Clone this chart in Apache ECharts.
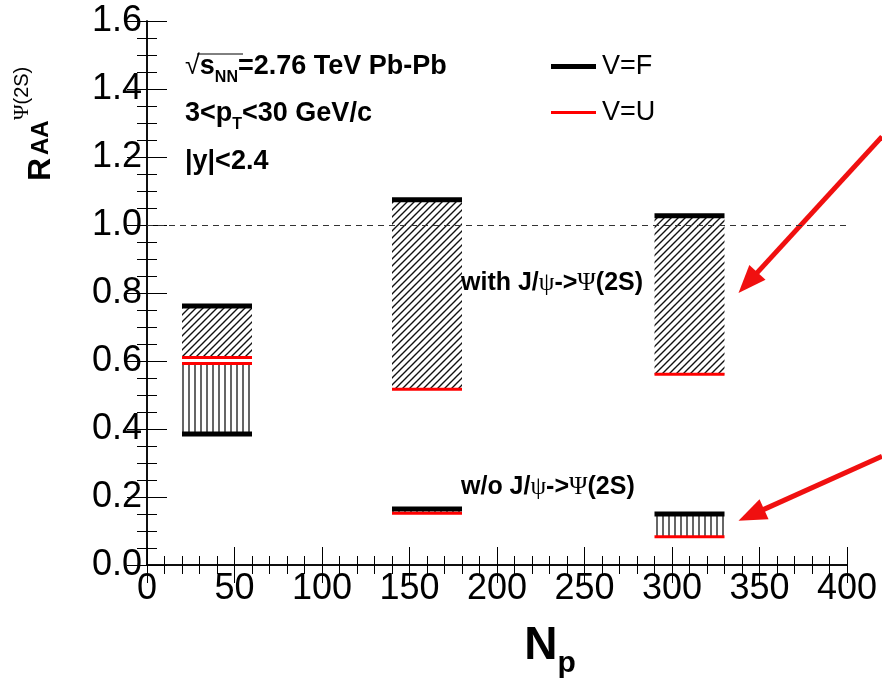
<!DOCTYPE html>
<html>
<head>
<meta charset="utf-8">
<script src="https://cdn.jsdelivr.net/npm/echarts@6/dist/echarts.min.js"></script>
<style>
  html, body { margin: 0; padding: 0; background: #fff; }
  #chart { width: 882px; height: 680px; }
</style>
</head>
<body>
<div id="chart"></div>
<script>
// Np ranges of the three centrality boxes
const npLow = [20, 140, 290]
const npHigh = [60, 180, 330]
// R_AA with J/psi -> psi(2S) feed
const withF = [0.762, 1.074, 1.027]
const withU = [0.610, 0.517, 0.561]
// R_AA without J/psi -> psi(2S) feed
const woF = [0.385, 0.165, 0.150]
const woU = [0.593, 0.152, 0.083]
// annotation arrows (from, to) in data units
const arrowFrom = [[420, 1.26], [420, 0.32]]
const arrowTo = [[338, 0.80], [338, 0.13]]
const xTicks = [0, 50, 100, 150, 200, 250, 300, 350, 400]
const yTicks = [0.0, 0.2, 0.4, 0.6, 0.8, 1.0, 1.2, 1.4, 1.6]

const FONT = "Liberation Sans, Arial, Helvetica, sans-serif"
const SERIF = "Liberation Serif, DejaVu Serif, serif"

function makeHatch(kind) {
  const c = document.createElement("canvas")
  const ctx = c.getContext("2d")
  if (kind === "diag") {
    const s = 7
    c.width = s; c.height = s
    ctx.strokeStyle = "#111"
    ctx.lineWidth = 1.4
    ctx.beginPath()
    ctx.moveTo(-1, s + 1); ctx.lineTo(s + 1, -1)
    ctx.moveTo(-2, 2); ctx.lineTo(2, -2)
    ctx.moveTo(s - 2, s + 2); ctx.lineTo(s + 2, s - 2)
    ctx.stroke()
  } else {
    c.width = 6; c.height = 6
    ctx.strokeStyle = "#333"
    ctx.lineWidth = 1.5
    ctx.beginPath()
    ctx.moveTo(3, 0); ctx.lineTo(3, 6)
    ctx.stroke()
  }
  return { image: c, repeat: "repeat" }
}

const diagFill = makeHatch("diag")
const vertFill = makeHatch("vert")

function bandData(lo, hi) {
  return npLow.map((x0, i) => [x0, npHigh[i], lo[i], hi[i]])
}
function lineData(a, b) {
  const out = []
  npLow.forEach((x0, i) => { out.push([x0, npHigh[i], a[i]]) })
  npLow.forEach((x0, i) => { out.push([x0, npHigh[i], b[i]]) })
  return out
}

function renderBand(fill) {
  return function (params, api) {
    const p0 = api.coord([api.value(0), Math.max(api.value(2), api.value(3))])
    const p1 = api.coord([api.value(1), Math.min(api.value(2), api.value(3))])
    return {
      type: "rect",
      shape: { x: p0[0], y: p0[1], width: p1[0] - p0[0], height: p1[1] - p0[1] },
      style: { fill: fill, stroke: null },
    }
  }
}

function renderLevel(color, width) {
  return function (params, api) {
    const p0 = api.coord([api.value(0), api.value(2)])
    const p1 = api.coord([api.value(1), api.value(2)])
    return {
      type: "line",
      shape: { x1: p0[0], y1: p0[1], x2: p1[0], y2: p1[1] },
      style: { stroke: color, lineWidth: width },
    }
  }
}

// red arrow: shaft plus filled head, both placed through the axes
function renderArrow(params, api) {
  const a = api.coord([api.value(0), api.value(1)])
  const b = api.coord([api.value(2), api.value(3)])
  const dx = b[0] - a[0], dy = b[1] - a[1]
  const len = Math.sqrt(dx * dx + dy * dy)
  const ux = dx / len, uy = dy / len
  const headLen = 28, headHalf = 11
  const bx = b[0] - ux * headLen, by = b[1] - uy * headLen
  return {
    type: "group",
    children: [
      { type: "line", shape: { x1: a[0], y1: a[1], x2: bx + ux * 2, y2: by + uy * 2 },
        style: { stroke: "#f01010", lineWidth: 5 } },
      { type: "polygon",
        shape: { points: [b, [bx - uy * headHalf, by + ux * headHalf], [bx + uy * headHalf, by - ux * headHalf]] },
        style: { fill: "#f01010" } },
    ],
  }
}

const chart = echarts.init(document.getElementById("chart"), null, { renderer: "canvas" })

const axisCommon = {
  axisLine: { lineStyle: { color: "#000", width: 1.5 } },
  axisTick: { inside: true, length: 18, lineStyle: { color: "#000", width: 1 } },
  minorTick: { show: true, length: 9, lineStyle: { color: "#000", width: 1 } },
  splitLine: { show: false },
}

const legendText = { fontFamily: FONT, fontSize: 27, color: "#000", padding: [0, 0, 0, 1] }

const annoRich = {
  b: { fontFamily: FONT, fontWeight: "bold", fontSize: 25, fill: "#000" },
  g: { fontFamily: SERIF, fontSize: 25, fill: "#000" },
}

const option = {
  backgroundColor: "#fff",
  animation: false,
  grid: { left: 147, right: 35, top: 21, bottom: 115, outerBoundsMode: "none" },
  legend: [
    {
      data: [{ name: "V=F", icon: "rect" }],
      left: 546, top: 48,
      itemWidth: 45, itemHeight: 5,
      textStyle: legendText,
      selectedMode: false,
    },
    {
      data: [{ name: "V=U", icon: "rect" }],
      left: 546, top: 94,
      itemWidth: 45, itemHeight: 3,
      textStyle: legendText,
      selectedMode: false,
    },
  ],
  xAxis: [
    {
      ...axisCommon,
      type: "value", min: xTicks[0], max: xTicks[xTicks.length - 1], interval: 50,
      minorTick: { ...axisCommon.minorTick, splitNumber: 5 },
      axisLabel: { fontFamily: FONT, fontSize: 36, color: "#000", margin: 6 },
      name: "{n|N}{s|p}",
      nameLocation: "middle",
      nameGap: 58,
      nameTextStyle: {
        padding: [0, 0, 0, 106],
        rich: {
          n: { fontFamily: FONT, fontWeight: "bold", fontSize: 46, color: "#000", verticalAlign: "bottom" },
          s: { fontFamily: FONT, fontWeight: "bold", fontSize: 30, color: "#000", verticalAlign: "bottom", padding: [0, 0, -10, 0] },
        },
      },
    },
    {
      ...axisCommon,
      type: "value", position: "top", min: xTicks[0], max: xTicks[xTicks.length - 1], interval: 50,
      minorTick: { ...axisCommon.minorTick, splitNumber: 5 },
      axisLabel: { show: false },
    },
  ],
  yAxis: [
    {
      ...axisCommon,
      type: "value", min: yTicks[0], max: yTicks[yTicks.length - 1], interval: 0.2,
      axisTick: { ...axisCommon.axisTick, length: 20 },
      minorTick: { ...axisCommon.minorTick, splitNumber: 4, length: 10 },
      axisLabel: { fontFamily: FONT, fontSize: 36, color: "#000", margin: 5, formatter: (v) => v.toFixed(1) },
    },
    {
      ...axisCommon,
      type: "value", position: "right", min: yTicks[0], max: yTicks[yTicks.length - 1], interval: 0.2,
      axisTick: { ...axisCommon.axisTick, length: 20 },
      minorTick: { ...axisCommon.minorTick, splitNumber: 4, length: 10 },
      axisLabel: { show: false },
    },
  ],
  series: [
    {
      name: "with J/psi feed",
      type: "custom",
      renderItem: renderBand(diagFill),
      data: bandData(withU, withF),
      encode: { x: [0, 1], y: [2, 3] },
      silent: true,
      markLine: {
        silent: true,
        symbol: "none",
        label: { show: false },
        lineStyle: { type: [6, 5], color: "#333", width: 1 },
        data: [{ yAxis: 1.0 }],
      },
    },
    {
      name: "w/o J/psi feed",
      type: "custom",
      renderItem: renderBand(vertFill),
      data: bandData(woF, woU),
      encode: { x: [0, 1], y: [2, 3] },
      silent: true,
    },
    {
      name: "V=F",
      type: "custom",
      itemStyle: { color: "#000" },
      renderItem: renderLevel("#000", 5),
      data: lineData(withF, woF),
      encode: { x: [0, 1], y: 2 },
      silent: true,
    },
    {
      name: "V=U",
      type: "custom",
      itemStyle: { color: "#ff0000" },
      renderItem: renderLevel("#ff0000", 3),
      data: lineData(withU, woU),
      encode: { x: [0, 1], y: 2 },
      silent: true,
    },
    {
      name: "arrows",
      type: "custom",
      clip: false,
      silent: true,
      renderItem: renderArrow,
      data: arrowFrom.map((f, i) => [f[0], f[1], arrowTo[i][0], arrowTo[i][1]]),
      encode: { x: [0, 2], y: [1, 3] },
    },
  ],
  graphic: [
    // y axis title R_AA^{psi(2S)}
    { type: "text", x: 57, y: 181, rotation: Math.PI / 2,
      style: { text: "R", font: "bold 32px " + FONT, fill: "#000", textAlign: "left", textVerticalAlign: "bottom" } },
    { type: "text", x: 53, y: 155, rotation: Math.PI / 2,
      style: { text: "AA", font: "bold 24px " + FONT, fill: "#000", textAlign: "left", textVerticalAlign: "bottom" } },
    { type: "text", x: 33, y: 120, rotation: Math.PI / 2,
      style: {
        text: "{g|Ψ}{t|(2S)}", textAlign: "left", textVerticalAlign: "bottom",
        rich: {
          g: { fontFamily: SERIF, fontSize: 21, fill: "#000" },
          t: { fontFamily: FONT, fontSize: 20, fill: "#000" },
        },
      } },
    // labels top-left
    { type: "text", left: 185, top: 53,
      style: {
        text: "{r|√}{b|s}{s|NN}{b|=2.76 TeV Pb-Pb}",
        rich: {
          r: { fontFamily: FONT, fontSize: 27, fill: "#000", verticalAlign: "bottom" },
          b: { fontFamily: FONT, fontWeight: "bold", fontSize: 27, fill: "#000", verticalAlign: "bottom" },
          s: { fontFamily: FONT, fontWeight: "bold", fontSize: 16, fill: "#000", verticalAlign: "bottom", padding: [0, 0, -6, 0] },
        },
      } },
    { type: "line", shape: { x1: 197, y1: 54, x2: 243, y2: 54 }, style: { stroke: "#000", lineWidth: 1 } },
    { type: "text", left: 185, top: 100,
      style: {
        text: "{b|3<p}{s|T}{b|<30 GeV/c}",
        rich: {
          b: { fontFamily: FONT, fontWeight: "bold", fontSize: 27, fill: "#000", verticalAlign: "bottom" },
          s: { fontFamily: FONT, fontWeight: "bold", fontSize: 16, fill: "#000", verticalAlign: "bottom", padding: [0, 0, -6, 0] },
        },
      } },
    { type: "text", left: 185, top: 148,
      style: { text: "|y|<2.4", font: "bold 27px " + FONT, fill: "#000" } },
    { type: "text", left: 461, top: 271,
      style: { text: "{b|with J/}{g|ψ}{b|->}{g|Ψ}{b|(2S)}", rich: annoRich } },
    { type: "text", left: 461, top: 475,
      style: { text: "{b|w/o J/}{g|ψ}{b|->}{g|Ψ}{b|(2S)}", rich: annoRich } },
  ],
}

chart.setOption(option)
window.addEventListener("resize", () => chart.resize())
</script>
</body>
</html>
